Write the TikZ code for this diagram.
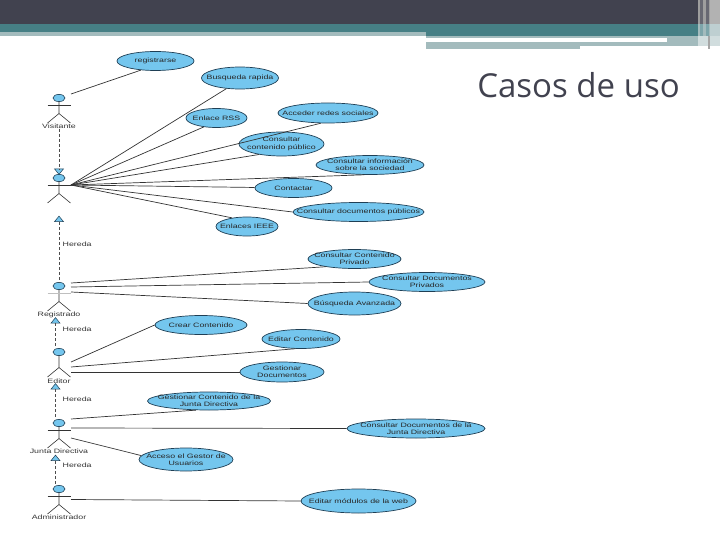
\documentclass[tikz,border=0pt]{standalone}
\usepackage{fontspec}
\setmainfont[FakeStretch=1.4]{Liberation Sans}
\newfontfamily\titlefont{Open Sans}
\usetikzlibrary{arrows.meta,shapes.geometric,calc}
\definecolor{slatedark}{HTML}{41424F}
\definecolor{tealband}{HTML}{467F85}
\definecolor{tealpale}{HTML}{A3BBBD}
\definecolor{caseblue}{HTML}{74C6EE}
\definecolor{caseline}{HTML}{1F3F55}

\begin{document}
\begin{tikzpicture}[x=1pt, y=-1pt, font=\fontsize{6.3}{7.3}\selectfont,
  ucase/.style={draw=caseline, line width=.7pt, fill=caseblue, ellipse, align=center, inner xsep=-30pt, inner ysep=-10pt, text=black!85},
  lbl/.style={inner sep=0pt, text=black!80},
  assoc/.style={draw=black!80, line width=.7pt},
  inherit/.style={draw=black!70, line width=.6pt, densely dashed},
  tri/.style={draw=caseline, line width=.5pt, fill=caseblue, isosceles triangle, isosceles triangle stretches, inner sep=0pt, minimum width=9pt, minimum height=5.5pt},
  armline/.style={draw=black!80},
  actor/.pic={
    \draw[caseline, line width=.6pt, fill=caseblue] (0,0) ellipse (6 and 3.6);
    \draw[black!80, line width=.6pt] (0,3.6)--(0,15.5) (-11.5,25)--(0,15.5)--(11.5,25);
    \draw[armline, line width=.6pt] (-11.5,7)--(11.5,7);
  }]
  \useasboundingbox (0,0) rectangle (720,540);
  % header bands
  \fill[slatedark] (0,0) rectangle (698,24);
  \fill[tealband] (0,24) rectangle (698,32);
  \fill[tealpale] (0,32) rectangle (426,36);
  \fill[tealband] (426,32) rectangle (698,36);
  \fill[tealpale] (426,36) rectangle (698,38.5);
  \fill[tealpale] (426,42) rectangle (580,49);
  \fill[tealpale] (580,42) rectangle (698,46);
  \fill[tealpale] (667,38) rectangle (698,46);
  % right edge strips
  \fill[black!38] (698,0) rectangle (710,24);
  \fill[slatedark!80] (700,0) rectangle (703,24);
  \fill[slatedark!80] (706,0) rectangle (709,24);
  \fill[black!30] (710,0) rectangle (720,24);
  \fill[tealpale] (698,24) rectangle (710,36);
  \fill[tealband!70] (700,24) rectangle (703,36);
  \fill[tealband!70] (706,24) rectangle (709,36);
  \fill[tealpale!70] (710,24) rectangle (720,36);
  \fill[tealpale!50] (698,36) rectangle (720,46);
  \fill[black!35] (708,36) rectangle (710,49);
  \node[inner sep=0pt, anchor=base, text=slatedark, font=\titlefont\fontsize{33}{36}\selectfont] (title) at (578.5,98) {Casos de uso};

  % actors
  \pic at (59,98) {actor};
  \pic at (59,178) {actor};
  \pic[armline/.style={draw=black!25}] at (59,286) {actor};
  \pic[armline/.style={draw=none}] at (59,352) {actor};
  \pic at (59,423) {actor};
  \pic at (59,489) {actor};
  \node[lbl] (visitante) at (59,126) {Visitante};
  \node[lbl] (registrado) at (59,314.5) {Registrado};
  \node[lbl] (editor) at (59,381) {Editor};
  \node[lbl] (junta) at (59,451) {Junta Directiva};
  \node[lbl] (admin) at (59,517.5) {Administrador};

  % use cases
  \node[ucase, minimum width=77pt, minimum height=19pt] (registrarse) at (155.5,61) {registrarse};
  \node[ucase, minimum width=77pt, minimum height=22pt] (busqueda) at (240,78) {Busqueda rapida};
  \node[ucase, minimum width=61pt, minimum height=19pt] (rss) at (216.5,118) {Enlace RSS};
  \node[ucase, minimum width=100pt, minimum height=20pt] (redes) at (328,113) {Acceder redes sociales};
  \node[ucase, minimum width=85pt, minimum height=24pt] (publico) at (281.5,144) {Consultar\\contenido público};
  \node[ucase, minimum width=108pt, minimum height=19pt] (sociedad) at (370,165) {Consultar información\\sobre la sociedad};
  \node[ucase, minimum width=77pt, minimum height=19pt] (contactar) at (293.5,188) {Contactar};
  \node[ucase, minimum width=131pt, minimum height=19pt] (docpublicos) at (358.5,212) {Consultar documentos públicos};
  \node[ucase, minimum width=62pt, minimum height=19pt] (ieee) at (247,226.5) {Enlaces IEEE};
  \node[ucase, minimum width=93pt, minimum height=19pt] (privado) at (354.5,259) {Consultar Contenido\\Privado};
  \node[ucase, minimum width=116pt, minimum height=19pt] (docprivados) at (427,282) {Consultar Documentos\\Privados};
  \node[ucase, minimum width=93pt, minimum height=23pt] (avanzada) at (354.5,303.5) {Búsqueda Avanzada};
  \node[ucase, minimum width=92pt, minimum height=19pt] (crear) at (201,325) {Crear Contenido};
  \node[ucase, minimum width=78pt, minimum height=19pt] (editar) at (301,339) {Editar Contenido};
  \node[ucase, minimum width=84pt, minimum height=20pt] (gesdoc) at (282,372) {Gestionar\\Documentos};
  \node[ucase, minimum width=123pt, minimum height=18pt] (gesjunta) at (209,401) {Gestionar Contenido de la\\Junta Directiva};
  \node[ucase, minimum width=138pt, minimum height=19pt] (docjunta) at (416,428.5) {Consultar Documentos de la\\Junta Directiva};
  \node[ucase, minimum width=94pt, minimum height=23pt] (gestor) at (186,459.5) {Acceso el Gestor de\\Usuarios};
  \node[ucase, minimum width=115pt, minimum height=24pt] (modulos) at (358.5,501) {Editar módulos de la web};

  % free ends on the actors
  \coordinate (av) at (71,94);
  \coordinate (ap) at (71,185);
  \coordinate (ar1) at (71,283);
  \coordinate (ar2) at (71,287);
  \coordinate (ar3) at (71,292);
  \coordinate (ae1) at (71,362);
  \coordinate (ae2) at (71,367);
  \coordinate (ae3) at (71,372);
  \coordinate (aj1) at (71,419);
  \coordinate (aj2) at (71,428);
  \coordinate (aj3) at (71,438);
  \coordinate (aa) at (71,499.5);

  \draw[assoc] (av)--(registrarse.212);
  \draw[assoc] (ap)--(busqueda.218);
  \draw[assoc] (ap)--(rss.215);
  \draw[assoc] (ap)--(redes.235);
  \draw[assoc] (ap)--(publico.205);
  \draw[assoc] (ap)--(sociedad.240);
  \draw[assoc] (ap)--(contactar);
  \draw[assoc] (ap)--(docpublicos.180);
  \draw[assoc] (ap)--(ieee.150);
  \draw[assoc] (ar1)--(privado.195);
  \draw[assoc] (ar2)--(docprivados.180);
  \draw[assoc] (ar3)--(avanzada.180);
  \draw[assoc] (ae1)--(crear.180);
  \draw[assoc] (ae2)--(editar.240);
  \draw[assoc] (ae3)--(gesdoc.180);
  \draw[assoc] (aj1)--(gesjunta.215);
  \draw[assoc] (aj2)--(docjunta.180);
  \draw[assoc] (aj3)--(gestor.175);
  \draw[assoc] (aa)--(modulos.180);

  % inheritance
  \node[tri, shape border rotate=-90] (t1) at (59,171) {};
  \node[tri, shape border rotate=90] (t2) at (59,219.5) {};
  \node[tri, shape border rotate=90] (t3) at (55.5,321) {};
  \node[tri, shape border rotate=90] (t4) at (55.5,387) {};
  \node[tri, shape border rotate=90] (t5) at (55.5,458.5) {};
  \coordinate (h3) at (55.5,347);
  \coordinate (h4) at (55.5,418);
  \coordinate (h5) at (55.5,484);
  \coordinate (h2) at (59,282);
  \draw[inherit] (visitante)--(t1);
  \draw[inherit] (t2)--(h2);
  \draw[inherit] (t3)--(h3);
  \draw[inherit] (t4)--(h4);
  \draw[inherit] (t5)--(h5);
  \node[lbl, anchor=west] (hereda1) at (62.5,244) {Hereda};
  \node[lbl, anchor=west] (hereda2) at (62.5,329) {Hereda};
  \node[lbl, anchor=west] (hereda3) at (62.5,399.5) {Hereda};
  \node[lbl, anchor=west] (hereda4) at (62.5,465.5) {Hereda};
\end{tikzpicture}
\end{document}
